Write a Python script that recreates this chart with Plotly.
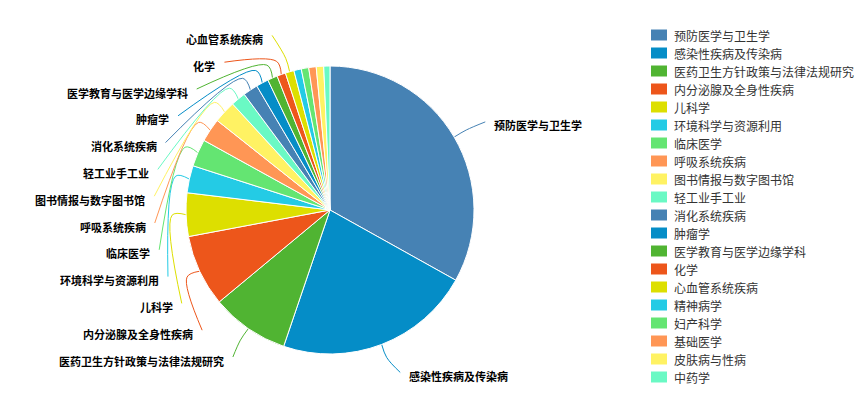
import math
import plotly.graph_objects as go

# Disciplines and document counts
categories = [
    "预防医学与卫生学", "感染性疾病及传染病", "医药卫生方针政策与法律法规研究",
    "内分泌腺及全身性疾病", "儿科学", "环境科学与资源利用", "临床医学",
    "呼吸系统疾病", "图书情报与数字图书馆", "轻工业手工业", "消化系统疾病",
    "肿瘤学", "医学教育与医学边缘学科", "化学", "心血管系统疾病",
    "精神病学", "妇产科学", "基础医学", "皮肤病与性病", "中药学",
]
values = [238, 159, 63, 58, 35, 22, 22, 19, 18, 12, 12, 10, 8, 7, 7, 6, 6, 6, 6, 5]

palette = ["#4682B4", "#058DC7", "#50B432", "#ED561B", "#DDDF00",
           "#24CBE5", "#64E572", "#FF9655", "#FFF263", "#6AF9C4"]

# Canvas / pie geometry (pixels)
W, H = 865, 408
CX, CY, R = 330, 210, 144
LEN1 = 14            # radial part of the leader line
R_LINE_Y = 174       # radius used for the natural label height
R_TEXT = 183         # label text edge sits on this circle
LINE_PAD = 7         # gap between line end and label text
TEXT_DY = 3.5        # text centre sits slightly below line end
LABEL_H = 26.8       # label box height used for overlap avoidance
BOUND_TOP, BOUND_BOTTOM = 22, H - 22
MIN_LABEL_ANGLE = 3.2

# Legend placement
LEG_X, LEG_Y0, LEG_STEP = 651, 35, 18
SW_W, SW_H = 16, 11

colors = [palette[i % len(palette)] for i in range(len(values))]
total = float(sum(values))


def polar(r, ang):
    a = math.radians(ang)
    return CX + r * math.sin(a), CY - r * math.cos(a)


# mid-angle of each slice (clockwise from 12 o'clock)
items = []
start = 0.0
for i, v in enumerate(values):
    sweep = v / total * 360.0
    mid = start + sweep / 2.0
    start += sweep
    if sweep < MIN_LABEL_ANGLE:
        continue
    side = 1 if math.sin(math.radians(mid)) >= 0 else -1
    items.append({"i": i, "mid": mid, "side": side,
                  "y": CY - R_LINE_Y * math.cos(math.radians(mid))})


def shift_on_y(side_items):
    """Push overlapping labels down, rebalance, then keep them inside bounds."""
    lst = sorted(side_items, key=lambda d: d["y"])
    n = len(lst)
    if n < 2:
        return
    last = -1e9
    total_shift = 0.0
    for d in lst:
        top = d["y"] - LABEL_H / 2
        if top < last:
            d["y"] += last - top
            total_shift += last - top
        last = d["y"] + LABEL_H / 2
    if total_shift > 0:
        for d in lst:
            d["y"] -= total_shift / n
    over_top = BOUND_TOP - (lst[0]["y"] - LABEL_H / 2)
    if over_top > 0:
        for d in lst:
            d["y"] += over_top
    over_bottom = (lst[-1]["y"] + LABEL_H / 2) - BOUND_BOTTOM
    if over_bottom > 0:
        for d in lst:
            d["y"] -= over_bottom


shift_on_y([d for d in items if d["side"] < 0])
shift_on_y([d for d in items if d["side"] > 0])

fig = go.Figure()

fig.add_trace(go.Pie(
    labels=categories,
    values=values,
    sort=False,
    direction="clockwise",
    rotation=0,
    textinfo="none",
    marker=dict(colors=colors, line=dict(color="#ffffff", width=1)),
    domain=dict(x=[(CX - R) / W, (CX + R) / W],
                y=[1 - (CY + R) / H, 1 - (CY - R) / H]),
    hovertemplate="%{label}: %{value} (%{percent})<extra></extra>",
    showlegend=False,
))

annotations = []
shapes = []
label_font = dict(family="Noto Sans CJK SC", size=11, color="#000000", weight="bold")

for d in items:
    ty = d["y"] + TEXT_DY
    dy = min(abs(ty - CY), R_TEXT)
    half = math.sqrt(R_TEXT ** 2 - dy ** 2)
    text_x = CX + d["side"] * half
    end_x = text_x - d["side"] * LINE_PAD
    p0 = polar(R, d["mid"])
    p1 = polar(R + LEN1, d["mid"])
    fig.add_trace(go.Scatter(
        x=[p0[0], p1[0], end_x],
        y=[p0[1], p1[1], d["y"]],
        mode="lines",
        line=dict(color=colors[d["i"]], width=1, shape="spline", smoothing=1),
        hoverinfo="skip",
        showlegend=False,
    ))
    annotations.append(dict(
        x=text_x, y=ty, xref="x", yref="y",
        text=categories[d["i"]], showarrow=False,
        xanchor="left" if d["side"] > 0 else "right", yanchor="middle",
        font=label_font,
    ))

# Legend: colour swatch + name for every category
for k, name in enumerate(categories):
    yc = LEG_Y0 + k * LEG_STEP
    shapes.append(dict(
        type="rect", xref="x", yref="y",
        x0=LEG_X, x1=LEG_X + SW_W, y0=yc - SW_H / 2, y1=yc + SW_H / 2,
        fillcolor=colors[k], line=dict(width=0),
    ))
    annotations.append(dict(
        x=LEG_X + SW_W + 5, y=yc, xref="x", yref="y",
        text=name, showarrow=False, xanchor="left", yanchor="middle",
        font=dict(family="Noto Sans CJK SC", size=12, color="#333333"),
    ))

fig.update_layout(
    width=W, height=H,
    margin=dict(l=0, r=0, t=0, b=0),
    paper_bgcolor="#ffffff",
    plot_bgcolor="#ffffff",
    xaxis=dict(range=[0, W], visible=False, fixedrange=True),
    yaxis=dict(range=[H, 0], visible=False, fixedrange=True),
    annotations=annotations,
    shapes=shapes,
    showlegend=False,
)

fig.write_html("out.html")
